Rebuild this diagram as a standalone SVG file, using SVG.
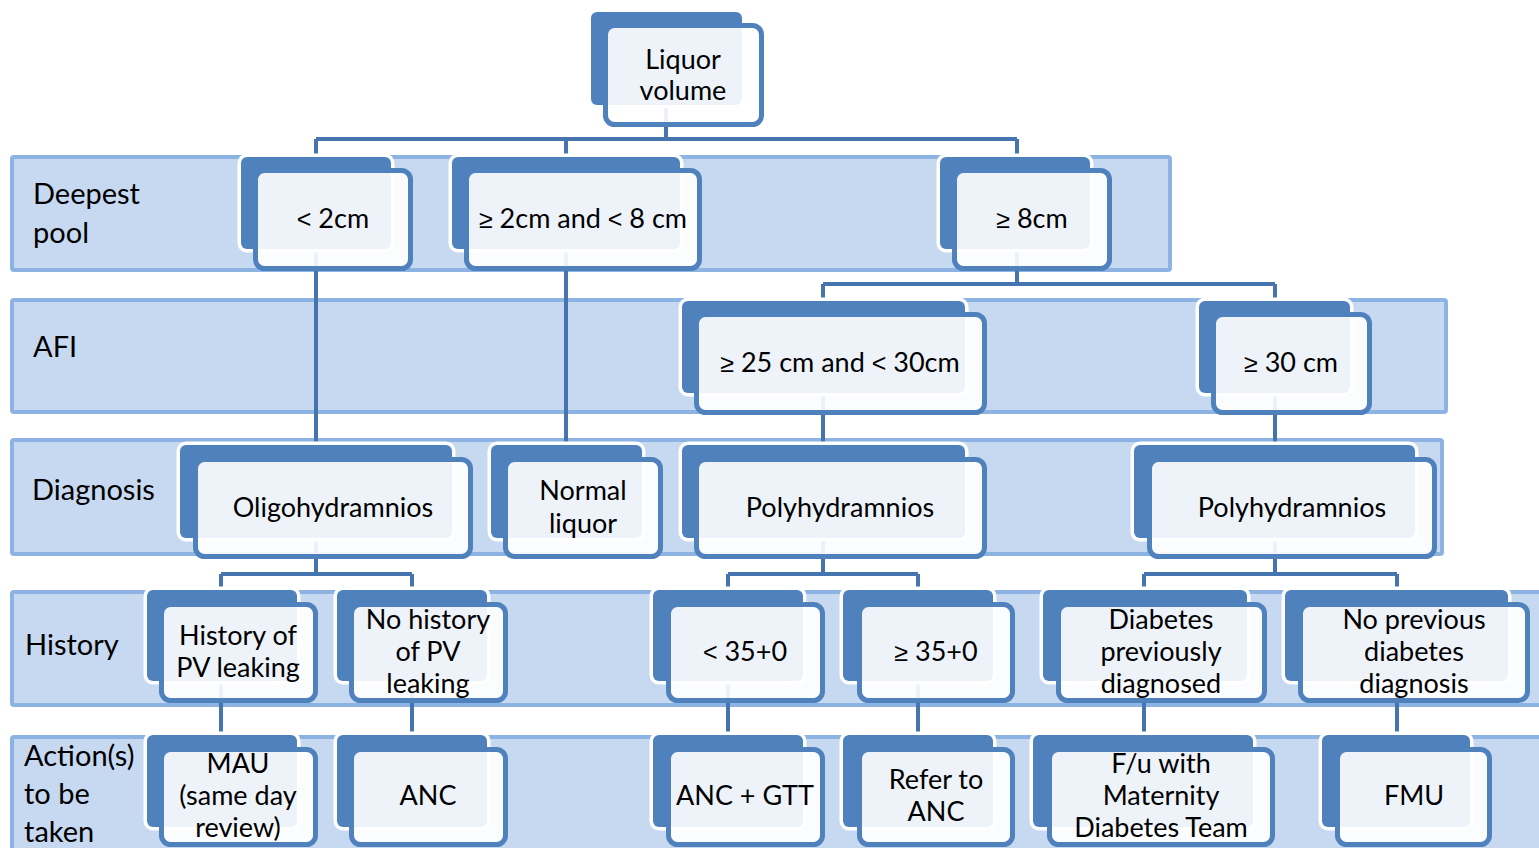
<svg xmlns="http://www.w3.org/2000/svg" width="1539" height="848" viewBox="0 0 1539 848">
<style>
.band{fill:#C6D9F1;stroke:#8DB3E2;stroke-width:4}
.bk{fill:#4F81BD;stroke:#FFFFFF;stroke-width:7;paint-order:stroke}
.fr{fill:#FFFFFF;fill-opacity:0.9;stroke:#4F81BD;stroke-width:5}
.cn{fill:none;stroke:#4674AF;stroke-width:4}
text{font-family:Lato,"Liberation Sans",sans-serif;font-size:27px;fill:#000}
.lb{font-size:29px}
.c{text-anchor:middle}
.s{font-family:"Liberation Sans",sans-serif;font-size:25px}
</style>
<rect width="1539" height="848" fill="#FFFFFF"/>
<g id="bands">
<rect class="band" x="12" y="157" width="1158" height="113" rx="2"/>
<rect class="band" x="12" y="300" width="1434" height="112" rx="2"/>
<rect class="band" x="12" y="440" width="1430" height="114" rx="2"/>
<rect class="band" x="12" y="592" width="1540" height="113" rx="2"/>
<rect class="band" x="12" y="737" width="1540" height="150" rx="2"/>
</g>
<g id="band-labels">
<text class="lb" x="33" y="204">Deepest</text>
<text class="lb" x="33" y="243">pool</text>
<text class="lb" x="33" y="357">AFI</text>
<text class="lb" x="32" y="500">Diagnosis</text>
<text class="lb" x="25" y="655">History</text>
<text class="lb" x="24" y="766">Action(s)</text>
<text class="lb" x="24" y="804">to be</text>
<text class="lb" x="24" y="842">taken</text>
</g>
<g id="connectors">
<path class="cn" d="M666,108 V139 M316,139 H1017 M316,139 V160 M566,139 V160 M1017,139 V160"/>
<path class="cn" d="M316,252 V448 M566,252 V448"/>
<path class="cn" d="M1017,252 V284 M823,284 H1275 M823,284 V304 M1275,284 V304"/>
<path class="cn" d="M823,396 V448 M1275,396 V448"/>
<path class="cn" d="M316,541 V574 M221,574 H412 M221,574 V593 M412,574 V593"/>
<path class="cn" d="M823,541 V574 M728,574 H918 M728,574 V593 M918,574 V593"/>
<path class="cn" d="M1275,541 V574 M1144,574 H1397 M1144,574 V593 M1397,574 V593"/>
<path class="cn" d="M221,684 V738 M412,684 V738 M728,684 V738 M918,684 V738 M1144,684 V738 M1397,684 V738"/>
</g>
<g id="n-liquor"><rect class="bk" x="591" y="12" width="151" height="93" rx="6"/><rect class="fr" x="605.5" y="25.5" width="156" height="99" rx="9"/><text class="c" x="683" y="69">Liquor</text><text class="c" x="683" y="100">volume</text></g>
<g id="n-lt2"><rect class="bk" x="241" y="157" width="150" height="92" rx="6"/><rect class="fr" x="255.5" y="170.5" width="155" height="98" rx="9"/><text class="c" x="333" y="228"><tspan class="s">&lt;</tspan> 2cm</text></g>
<g id="n-2to8"><rect class="bk" x="452" y="157" width="228" height="92" rx="6"/><rect class="fr" x="466.5" y="170.5" width="233" height="98" rx="9"/><text class="c" x="583" y="228"><tspan class="s">≥</tspan> 2cm and <tspan class="s">&lt;</tspan> 8 cm</text></g>
<g id="n-ge8"><rect class="bk" x="940" y="157" width="150" height="92" rx="6"/><rect class="fr" x="954.5" y="170.5" width="155" height="98" rx="9"/><text class="c" x="1032" y="228"><tspan class="s">≥</tspan> 8cm</text></g>
<g id="n-25to30"><rect class="bk" x="682" y="301" width="283" height="92" rx="6"/><rect class="fr" x="696.5" y="314.5" width="288" height="98" rx="9"/><text class="c" x="840" y="372"><tspan class="s">≥</tspan> 25 cm and <tspan class="s">&lt;</tspan> 30cm</text></g>
<g id="n-ge30"><rect class="bk" x="1199" y="301" width="151" height="92" rx="6"/><rect class="fr" x="1213.5" y="314.5" width="156" height="98" rx="9"/><text class="c" x="1291" y="372"><tspan class="s">≥</tspan> 30 cm</text></g>
<g id="n-oligo"><rect class="bk" x="180" y="445" width="272" height="93" rx="6"/><rect class="fr" x="195.5" y="459.5" width="275" height="97" rx="9"/><text class="c" x="333" y="517">Oligohydramnios</text></g>
<g id="n-normal"><rect class="bk" x="491" y="445" width="151" height="93" rx="6"/><rect class="fr" x="505.5" y="459.5" width="155" height="97" rx="9"/><text class="c" x="583" y="500">Normal</text><text class="c" x="583" y="533">liquor</text></g>
<g id="n-poly1"><rect class="bk" x="682" y="445" width="283" height="93" rx="6"/><rect class="fr" x="696.5" y="459.5" width="288" height="97" rx="9"/><text class="c" x="840" y="517">Polyhydramnios</text></g>
<g id="n-poly2"><rect class="bk" x="1134" y="445" width="281" height="93" rx="6"/><rect class="fr" x="1149.5" y="459.5" width="285" height="97" rx="9"/><text class="c" x="1292" y="517">Polyhydramnios</text></g>
<g id="n-hist"><rect class="bk" x="147" y="590" width="150" height="91" rx="6"/><rect class="fr" x="161.5" y="604.5" width="154" height="96" rx="9"/><text class="c" x="238" y="645">History of</text><text class="c" x="238" y="677">PV leaking</text></g>
<g id="n-nohist"><rect class="bk" x="337" y="590" width="150" height="91" rx="6"/><rect class="fr" x="351.5" y="604.5" width="154" height="96" rx="9"/><text class="c" x="428" y="629">No history</text><text class="c" x="428" y="661">of PV</text><text class="c" x="428" y="693">leaking</text></g>
<g id="n-lt35"><rect class="bk" x="653" y="590" width="150" height="91" rx="6"/><rect class="fr" x="668.5" y="604.5" width="154" height="96" rx="9"/><text class="c" x="745" y="661"><tspan class="s">&lt;</tspan> 35+0</text></g>
<g id="n-ge35"><rect class="bk" x="843" y="590" width="150" height="91" rx="6"/><rect class="fr" x="859.5" y="604.5" width="153" height="96" rx="9"/><text class="c" x="936" y="661"><tspan class="s">≥</tspan> 35+0</text></g>
<g id="n-diab"><rect class="bk" x="1043" y="590" width="204" height="91" rx="6"/><rect class="fr" x="1058.5" y="604.5" width="206" height="96" rx="9"/><text class="c" x="1161" y="629">Diabetes</text><text class="c" x="1161" y="661">previously</text><text class="c" x="1161" y="693">diagnosed</text></g>
<g id="n-nodiab"><rect class="bk" x="1285" y="590" width="223" height="91" rx="6"/><rect class="fr" x="1300.5" y="604.5" width="227" height="96" rx="9"/><text class="c" x="1414" y="629">No previous</text><text class="c" x="1414" y="661">diabetes</text><text class="c" x="1414" y="693">diagnosis</text></g>
<g id="n-mau"><rect class="bk" x="147" y="735" width="150" height="92" rx="6"/><rect class="fr" x="161.5" y="749.5" width="154" height="95" rx="9"/><text class="c" x="238" y="773">MAU</text><text class="c" x="238" y="805">(same day</text><text class="c" x="238" y="837">review)</text></g>
<g id="n-anc"><rect class="bk" x="337" y="735" width="150" height="92" rx="6"/><rect class="fr" x="351.5" y="749.5" width="154" height="95" rx="9"/><text class="c" x="428" y="805">ANC</text></g>
<g id="n-ancgtt"><rect class="bk" x="653" y="735" width="150" height="92" rx="6"/><rect class="fr" x="668.5" y="749.5" width="154" height="95" rx="9"/><text class="c" x="745" y="805">ANC + GTT</text></g>
<g id="n-refer"><rect class="bk" x="843" y="735" width="150" height="92" rx="6"/><rect class="fr" x="859.5" y="749.5" width="153" height="95" rx="9"/><text class="c" x="936" y="789">Refer to</text><text class="c" x="936" y="821">ANC</text></g>
<g id="n-fu"><rect class="bk" x="1033" y="735" width="220" height="92" rx="6"/><rect class="fr" x="1049.5" y="749.5" width="223" height="95" rx="9"/><text class="c" x="1161" y="773">F/u with</text><text class="c" x="1161" y="805">Maternity</text><text class="c" x="1161" y="837">Diabetes Team</text></g>
<g id="n-fmu"><rect class="bk" x="1322" y="735" width="148" height="92" rx="6"/><rect class="fr" x="1337.5" y="749.5" width="152" height="95" rx="9"/><text class="c" x="1414" y="805">FMU</text></g>
</svg>
